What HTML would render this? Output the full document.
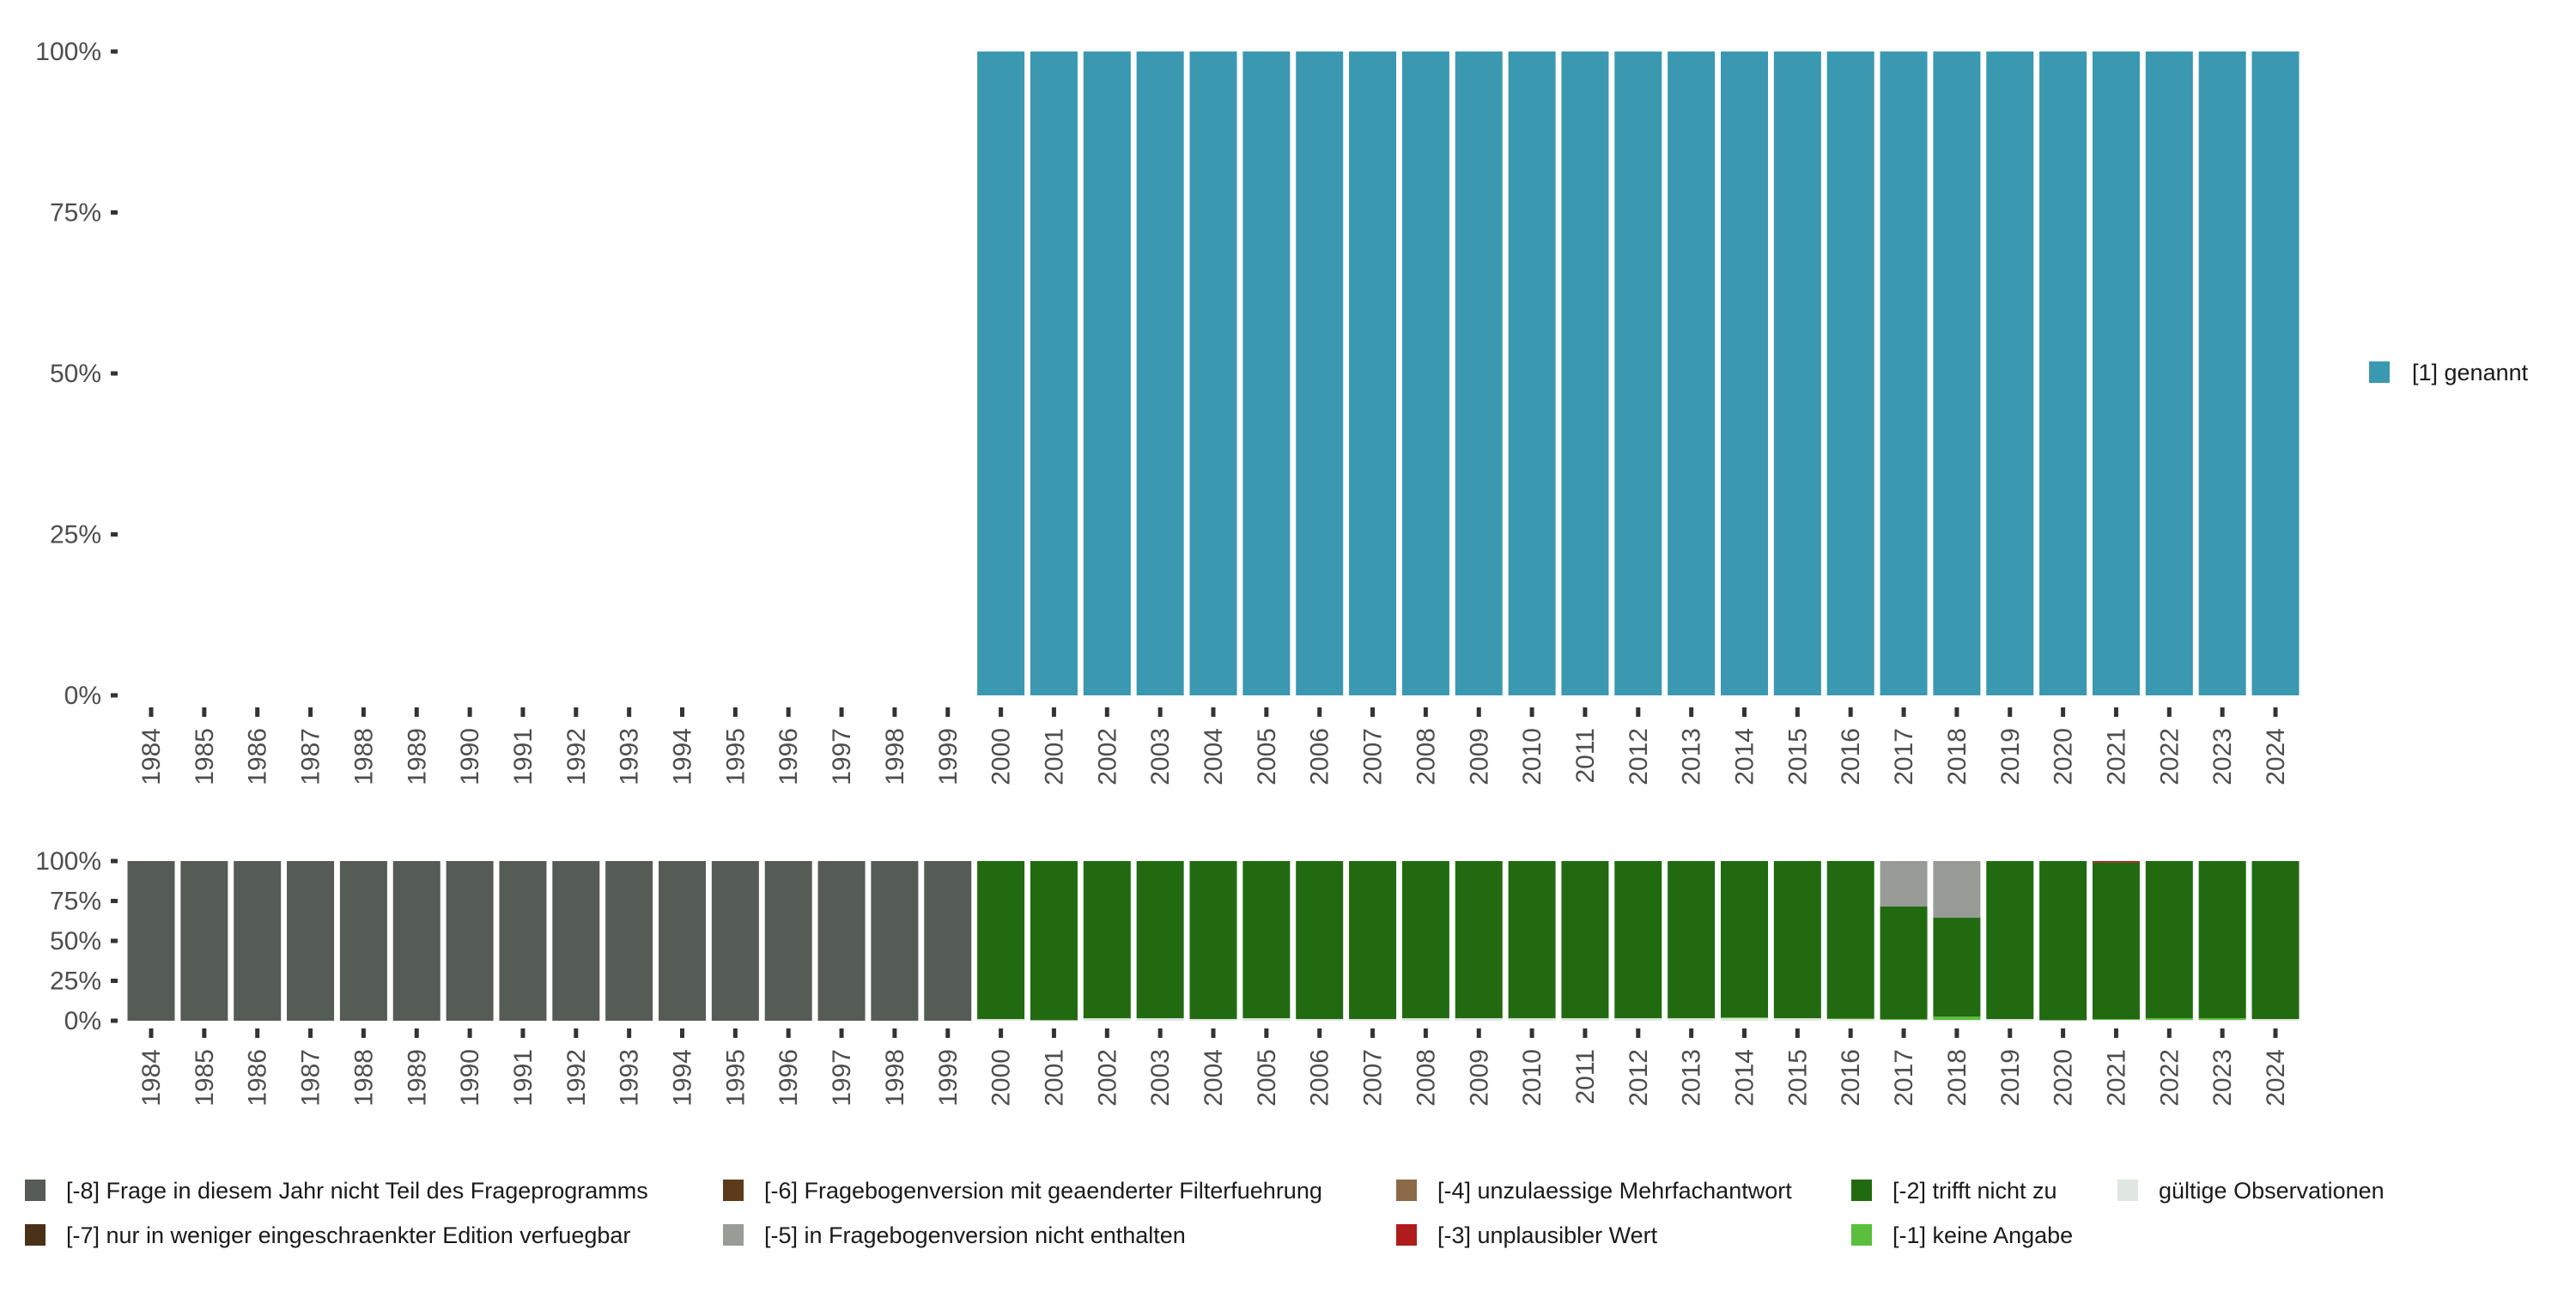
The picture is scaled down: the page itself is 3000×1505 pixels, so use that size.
<!DOCTYPE html>
<html><head><meta charset="utf-8">
<style>
html,body{margin:0;padding:0;background:#fff;}
svg text{font-family:"Liberation Sans","DejaVu Sans",sans-serif;}
</style></head>
<body>
<svg id="chart" width="3000" height="1500" xmlns="http://www.w3.org/2000/svg">
<g id="top"></g>
<g id="bot"></g>
<g id="legR"></g>
<g id="legB"></g>
</svg>
<script>
const years = [];
for (let y = 1984; y <= 2024; y++) years.push(String(y));
const topValues = [0,0,0,0,0,0,0,0,0,0,0,0,0,0,0,0,100,100,100,100,100,100,100,100,100,100,100,100,100,100,100,100,100,100,100,100,100,100,100,100,100];
const tickLabels = ["0%","25%","50%","75%","100%"];
const tickValues = [0,25,50,75,100];
// bottom series (per year, %)
const sM8 = [100,100,100,100,100,100,100,100,100,100,100,100,100,100,100,100,0,0,0,0,0,0,0,0,0,0,0,0,0,0,0,0,0,0,0,0,0,0,0,0,0];
const sM5 = [0,0,0,0,0,0,0,0,0,0,0,0,0,0,0,0,0,0,0,0,0,0,0,0,0,0,0,0,0,0,0,0,0,28.5,35.5,0,0,0,0,0,0];
const sM3 = [0,0,0,0,0,0,0,0,0,0,0,0,0,0,0,0,0,0,0,0,0,0,0,0,0,0,0,0,0,0,0,0,0,0,0,0,0,1,0,0,0];
const sM1 = [0,0,0,0,0,0,0,0,0,0,0,0,0,0,0,0,0,0,0,0,0,0,0,0,0,0,0,0,0,0,0.5,0,0.3,0.5,2,0,0,0.5,1,1,0];
const sValid = [0,0,0,0,0,0,0,0,0,0,0,0,0,0,0,0,1,0.3,1.5,1.5,1,1.5,1,1,1.5,1.5,1.5,1.5,1.5,1.5,1.5,1.5,1,0.5,0.5,1,0.3,0.5,0.5,0.5,1];
const sM2 = years.map((_, i) => 100 - sM8[i] - sM5[i] - sM3[i] - sM1[i] - sValid[i]);
const legendLabels = ["[-8] Frage in diesem Jahr nicht Teil des Frageprogramms","[-7] nur in weniger eingeschraenkter Edition verfuegbar","[-6] Fragebogenversion mit geaenderter Filterfuehrung","[-5] in Fragebogenversion nicht enthalten","[-4] unzulaessige Mehrfachantwort","[-3] unplausibler Wert","[-2] trifft nicht zu","[-1] keine Angabe","gültige Observationen"];
const legendColors = ["#555b55","#4a3219","#5c3a1a","#989b96","#8c6a48","#b01c1c","#216a10","#5abf3c","#e0e6e0"];

const NS = "http://www.w3.org/2000/svg";
function mk(tag, attrs, parent) { const e = document.createElementNS(NS, tag); for (const k in attrs) e.setAttribute(k, attrs[k]); parent.appendChild(e); return e; }
const x0 = 176, pitch = 61.85, bw = 55;
function xc(i) { return x0 + i * pitch; }

function axes(g, yScale, labelTop, name) {
  tickValues.forEach((v, i) => {
    const y = yScale(v);
    const t = mk("text", {x: 118, y: y + 10, "text-anchor": "end", "font-size": 30, fill: "#4d4d4d"}, g);
    
    
    t.textContent = tickLabels[i];
    const tk = mk("rect", {x: 129, y: y - 2.5, width: 8, height: 5, fill: "#333"}, g);
    
    
  });
  years.forEach((yr, i) => {
    const x = xc(i);
    const tk = mk("rect", {x: x - 2.5, y: labelTop - 24, width: 5, height: 11, fill: "#333"}, g);
    
    
    const t = mk("text", {x: 0, y: 0, "text-anchor": "end", "font-size": 30, fill: "#4d4d4d", transform: `translate(${x + 10},${labelTop}) rotate(-90)`}, g);
    
    
    t.textContent = yr;
  });
}

// top chart
const gT = document.getElementById("top");
const tY = v => 810 - v / 100 * 750;
years.forEach((yr, i) => {
  const v = topValues[i];
  if (v <= 0) return;
  const r = mk("rect", {x: xc(i) - bw / 2, y: tY(v), width: bw, height: tY(0) - tY(v), fill: "#3a98b0"}, gT);
  
  
});
axes(gT, tY, 848, "top");

// bottom chart
const gB = document.getElementById("bot");
const bY = v => 1189 - v / 100 * 186;
const stackTopDown = [[sM8, 0], [sM5, 3], [sM3, 5], [sM2, 6], [sM1, 7], [sValid, 8]];
years.forEach((yr, i) => {
  let acc = 100;
  stackTopDown.forEach(([arr, ci]) => {
    const v = arr[i] || 0;
    if (v <= 0) return;
    const yTop = bY(acc), yBot = bY(acc - v);
    const r = mk("rect", {x: xc(i) - bw / 2, y: yTop, width: bw, height: yBot - yTop, fill: legendColors[ci]}, gB);
    
    
    acc -= v;
  });
});
axes(gB, bY, 1222, "bottom");

// right legend
const gR = document.getElementById("legR");
const rk = mk("rect", {x: 2759, y: 421, width: 24, height: 25, fill: "#3a98b0"}, gR);


const rt = mk("text", {x: 2809, y: 443, "font-size": 27, fill: "#1a1a1a"}, gR);


rt.textContent = "[1] genannt";

// bottom legend (column-major, 2 rows)
const gL = document.getElementById("legB");
const colX = [29, 842, 1626, 2156, 2466];
const rowY = [1386, 1438];
legendLabels.forEach((lab, k) => {
  const c = Math.floor(k / 2), r = k % 2;
  const sq = mk("rect", {x: colX[c], y: rowY[r] - 12, width: 24, height: 25, fill: legendColors[k]}, gL);
  
  
  const t = mk("text", {x: colX[c] + 48, y: rowY[r] + 10, "font-size": 27, fill: "#1a1a1a"}, gL);
  
  
  t.textContent = lab;
});
</script>
</body></html>
